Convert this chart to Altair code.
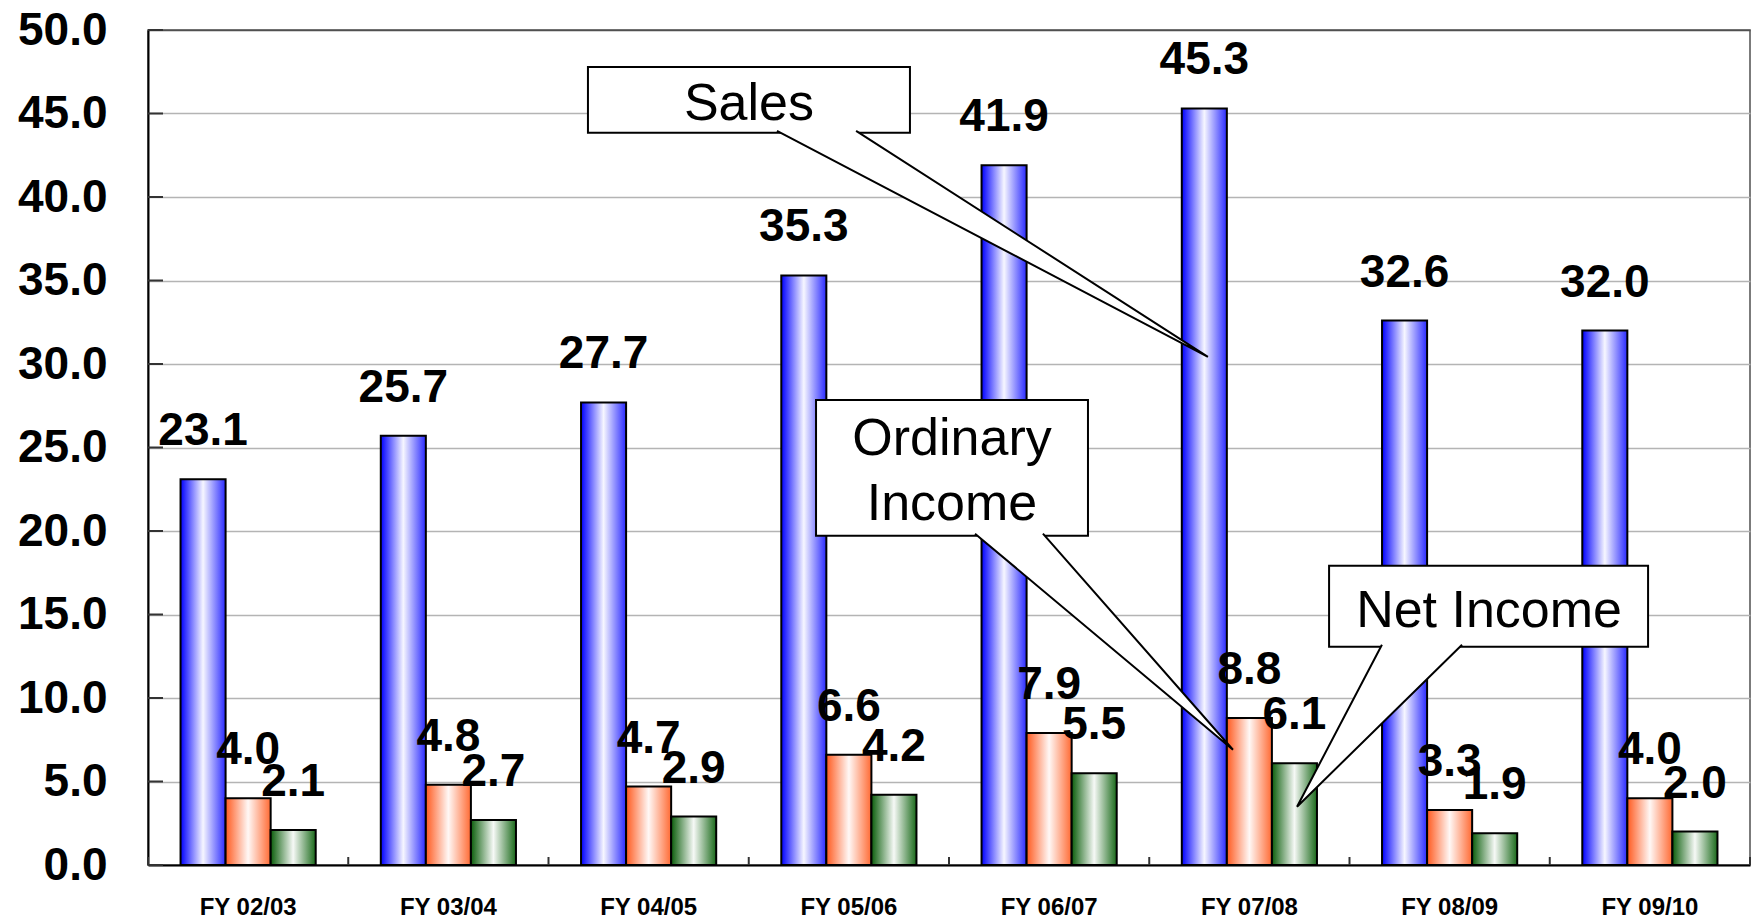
import altair as alt
import pandas as pd

# ---------------- data ----------------
categories = ["FY 02/03", "FY 03/04", "FY 04/05", "FY 05/06",
              "FY 06/07", "FY 07/08", "FY 08/09", "FY 09/10"]
series_names = ["Sales", "Ordinary Income", "Net Income"]
sales = [23.1, 25.7, 27.7, 35.3, 41.9, 45.3, 32.6, 32.0]
ordinary_income = [4.0, 4.8, 4.7, 6.6, 7.9, 8.8, 3.3, 4.0]
net_income = [2.1, 2.7, 2.9, 4.2, 5.5, 6.1, 1.9, 2.0]
y_ticks = [0, 5, 10, 15, 20, 25, 30, 35, 40, 45, 50]
group_edges = [0, 1, 2, 3, 4, 5, 6, 7, 8]

# callout annotations, in (group-units, value) coordinates
box_names = ["Sales", "Ordinary", "Net"]
box_u1 = [2.197, 3.336, 5.898]
box_u2 = [3.805, 4.694, 7.491]
box_v1 = [47.79, 27.85, 17.92]
box_v2 = [43.84, 19.72, 13.07]

label_text = ["Sales", "Ordinary", "Income", "Net Income"]
label_u = [3.001, 4.015, 4.015, 6.697]
label_v = [44.61, 24.57, 20.67, 14.26]

wedge_id = ["Sales", "Sales", "Sales", "Ordinary", "Ordinary", "Ordinary", "Net", "Net", "Net"]
wedge_order = [0, 1, 2, 0, 1, 2, 0, 1, 2]
wedge_u = [3.141, 5.293, 3.536, 4.130, 5.418, 4.469, 6.162, 5.738, 6.562]
wedge_v = [43.96, 30.43, 43.96, 19.84, 6.90, 19.84, 13.19, 3.49, 13.19]

# ---------------- tables ----------------
rows = []
for s, vals in zip(series_names, [sales, ordinary_income, net_income]):
    for c, v in zip(categories, vals):
        rows.append({"category": c, "series": s, "value": v})
df = pd.DataFrame(rows)
df_ticks = pd.DataFrame({"value": y_ticks})
df_edges = pd.DataFrame({"u": group_edges})
df_boxes = pd.DataFrame({"name": box_names, "u1": box_u1, "u2": box_u2, "value": box_v1, "v2": box_v2})
df_labels = pd.DataFrame({"text": label_text, "u": label_u, "value": label_v})
df_wedges = pd.DataFrame({"id": wedge_id, "o": wedge_order, "u": wedge_u, "value": wedge_v})

FONT = "Liberation Sans, Arial, Helvetica, sans-serif"
W, H = 1602, 835

def grad(edge_l, mid, edge_r):
    return alt.Gradient(
        gradient="linear", x1=0, x2=1, y1=0, y2=0,
        stops=[alt.GradientStop(color=edge_l, offset=0),
               alt.GradientStop(color=mid, offset=0.5),
               alt.GradientStop(color=edge_r, offset=1)])

grads = {
    "Sales": grad("#0000ff", "#f6f6ff", "#2a2aff"),
    "Ordinary Income": grad("#ff5a1f", "#fff8f6", "#ff6a33"),
    "Net Income": grad("#0b5e0b", "#f6f9f6", "#1a6a1a"),
}

yscale = alt.Scale(domain=[0, 50], nice=False, zero=True)
Y_AXIS = alt.Axis(title=None, values=y_ticks, format=".1f", labelFont=FONT,
                  labelFontSize=46, labelFontWeight="bold", labelColor="black",
                  labelPadding=41, ticks=False, domainColor="black", domainWidth=2,
                  grid=True, gridWidth=1.5,
                  gridColor=alt.condition("datum.value == 50", alt.value("#505050"), alt.value("#b4b4b4")),
                  labelOverlap=False, labelFlush=False)

def Yq(field="value"):
    return alt.Y(f"{field}:Q", scale=yscale, axis=Y_AXIS)

X = alt.X("category:N", sort=categories,
          scale=alt.Scale(domain=categories, paddingInner=0.325, paddingOuter=0.1625),
          axis=alt.Axis(title=None, labelAngle=0, labelFont=FONT, labelFontSize=24,
                        labelFontWeight="bold", labelColor="black", labelPadding=30,
                        ticks=False, domainColor="black", domainWidth=2, grid=False))
XO = alt.XOffset("series:N", scale=alt.Scale(domain=series_names, paddingInner=0, paddingOuter=0))

base = alt.Chart(df)
bar_layers = []
text_layers = []
for s in series_names:
    bar_layers.append(
        base.transform_filter(alt.datum.series == s)
        .mark_bar(color=grads[s], stroke="black", strokeWidth=2)
        .encode(x=X, xOffset=XO, y=Yq())
    )
    text_layers.append(
        base.transform_filter(alt.datum.series == s)
        .mark_text(font=FONT, fontSize=46, fontWeight="bold", color="black",
                   align="center", baseline="alphabetic", dy=-34)
        .encode(x=X, xOffset=XO, y=Yq(), text=alt.Text("value:Q", format=".1f"))
    )

ytick_layer = alt.Chart(df_ticks).mark_rule(color="#333333", strokeWidth=2).encode(
    y=Yq(), x=alt.value(0), x2=alt.value(15))

bars = alt.layer(*bar_layers, *text_layers, ytick_layer)

uscale = alt.Scale(domain=[0, 8], nice=False, zero=False)

xtick_layer = alt.Chart(df_edges).mark_rule(color="#333333", strokeWidth=2).encode(
    x=alt.X("u:Q", scale=uscale, axis=None), y=alt.value(H - 8), y2=alt.value(H))

box_layer = alt.Chart(df_boxes).mark_rect(fill="white", stroke="black", strokeWidth=2).encode(
    x=alt.X("u1:Q", scale=uscale, axis=None), x2="u2:Q",
    y=Yq(), y2="v2:Q")

wedge_layer = alt.Chart(df_wedges).mark_line(fill="white", stroke="black", strokeWidth=2,
                                              strokeJoin="miter").encode(
    x=alt.X("u:Q", scale=uscale, axis=None),
    y=Yq(),
    detail="id:N", order="o:Q")

label_layer = alt.Chart(df_labels).mark_text(font=FONT, fontSize=52, color="black",
                                             align="center", baseline="alphabetic").encode(
    x=alt.X("u:Q", scale=uscale, axis=None),
    y=Yq(),
    text="text:N")

annos = alt.layer(xtick_layer, box_layer, wedge_layer, label_layer)

chart = (
    alt.layer(bars, annos)
    .resolve_scale(x="independent")
    .properties(width=W, height=H, autosize=alt.AutoSizeParams(type="none"),
                padding={"left": 148, "top": 30, "right": 1, "bottom": 55},
                background="white")
    .configure_view(stroke="#505050", strokeWidth=1.5)
)

chart.save("out.html", embed_options={"renderer": "svg", "actions": False})
